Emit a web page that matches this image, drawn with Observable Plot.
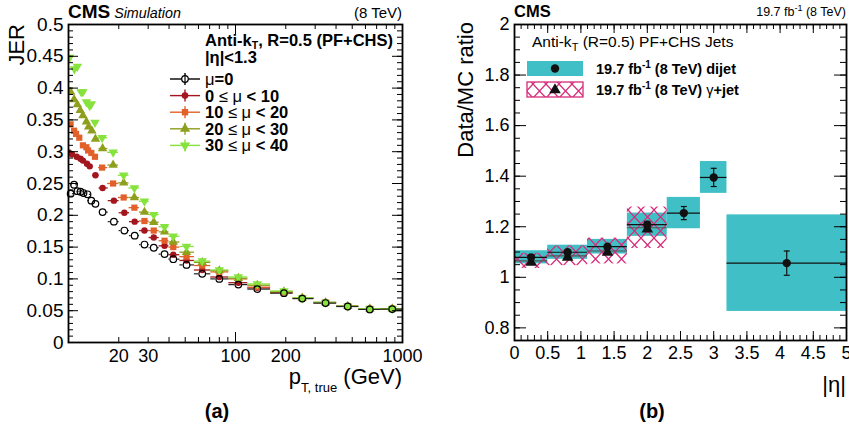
<!DOCTYPE html>
<html><head><meta charset="utf-8">
<script src="https://cdn.jsdelivr.net/npm/d3@7"></script>
<script src="https://cdn.jsdelivr.net/npm/@observablehq/plot@0.6"></script>
<style>
body{margin:0;background:#fff;}
#wrap{position:relative;width:849px;height:431px;overflow:hidden;background:#fff;}
#wrap > svg{position:absolute;top:0;}
</style></head><body><div id="wrap"></div>
<script>
// ---------------- Panel (a): JER vs pT, true ----------------
const ptMu0    = [10.3, 10.8, 11.3, 11.8, 12.3, 13.0, 13.7, 14.5, 16.0, 18.7, 21.6, 24.9, 28.5, 32.4, 37.6, 42.4, 50.9, 63.2, 80, 104, 135, 195, 251, 346, 470, 637, 868];
const jerMu0   = [0.234, 0.248, 0.238, 0.237, 0.235, 0.233, 0.223, 0.218, 0.205, 0.190, 0.176, 0.168, 0.154, 0.149, 0.139, 0.131, 0.122, 0.108, 0.100, 0.091, 0.084, 0.0776, 0.069, 0.062, 0.0566, 0.0520, 0.0525];
const ptMu0_10  = [10.05, 10.5, 11.2, 11.8, 12.2, 12.9, 13.4, 14.5, 16.0, 18.7, 21.6, 24.9, 28.5, 32.4, 37.6, 42.4, 50.9, 63.2, 80, 104, 135, 195, 251, 346, 470, 637, 868];
const jerMu0_10 = [0.299, 0.296, 0.292, 0.289, 0.286, 0.281, 0.277, 0.263, 0.243, 0.223, 0.204, 0.190, 0.176, 0.165, 0.152, 0.138, 0.129, 0.114, 0.103, 0.094, 0.086, 0.0785, 0.0695, 0.0625, 0.057, 0.0525, 0.053];
const ptMu10_20  = [10.3, 10.8, 11.1, 11.6, 12.2, 12.8, 13.1, 13.7, 14.4, 15.9, 18.5, 21.4, 24.8, 28.5, 32.4, 37.6, 42.4, 50.9, 63.2, 80, 104, 135, 195, 251, 346, 470, 637, 868];
const jerMu10_20 = [0.343, 0.333, 0.328, 0.322, 0.310, 0.307, 0.302, 0.298, 0.292, 0.275, 0.250, 0.228, 0.212, 0.191, 0.176, 0.160, 0.150, 0.135, 0.121, 0.111, 0.100, 0.087, 0.079, 0.070, 0.063, 0.057, 0.053, 0.053];
const ptMu20_30  = [10.3, 10.8, 11.3, 11.75, 12.2, 12.8, 13.2, 13.8, 14.5, 16.0, 18.5, 21.4, 24.8, 28.5, 32.4, 37.6, 42.4, 50.9, 63.2, 80, 104, 135, 195, 251, 346, 470, 637, 868];
const jerMu20_30 = [0.394, 0.382, 0.374, 0.365, 0.357, 0.347, 0.339, 0.333, 0.320, 0.305, 0.279, 0.251, 0.228, 0.205, 0.189, 0.174, 0.158, 0.142, 0.126, 0.113, 0.101, 0.090, 0.080, 0.070, 0.063, 0.057, 0.053, 0.053];
const ptMu30_40  = [10.15, 10.85, 11.3, 11.9, 12.2, 12.8, 13.4, 13.7, 14.4, 15.9, 18.5, 21.4, 24.8, 28.5, 32.4, 37.6, 42.4, 50.9, 63.2, 80, 104, 135, 195, 251, 346, 470, 637, 868];
const jerMu30_40 = [0.448, 0.430, 0.434, 0.394, 0.394, 0.378, 0.372, 0.375, 0.346, 0.322, 0.299, 0.263, 0.243, 0.222, 0.201, 0.182, 0.167, 0.151, 0.128, 0.114, 0.103, 0.092, 0.081, 0.070, 0.063, 0.057, 0.053, 0.053];

const jerXTickValues = [20, 30, 100, 200, 1000];
const jerXTickLabels = ["20", "30", "100", "200", "1000"];
const jerYTickValues = [0, 0.05, 0.1, 0.15, 0.2, 0.25, 0.3, 0.35, 0.4, 0.45, 0.5];
const jerYTickLabels = ["0", "0.05", "0.1", "0.15", "0.2", "0.25", "0.3", "0.35", "0.4", "0.45", "0.5"];

// ---------------- Panel (b): Data/MC ratio vs |eta| ----------------
const etaLo = [0, 0.5, 1.1, 1.7, 2.3, 2.8, 3.2];
const etaHi = [0.5, 1.1, 1.7, 2.3, 2.8, 3.2, 5.0];
const dijetRatio = [1.079, 1.099, 1.121, 1.208, 1.254, 1.395, 1.056];
const dijetStat  = [0.005, 0.005, 0.005, 0.013, 0.026, 0.036, 0.048];
const dijetSyst  = [0.026, 0.028, 0.029, 0.046, 0.062, 0.063, 0.191];
const gjetRatio = [1.065, 1.085, 1.104, 1.196];
const gjetSyst  = [0.030, 0.039, 0.051, 0.082];
const ratioYTickValues = [0.8, 1, 1.2, 1.4, 1.6, 1.8, 2];
const ratioYTickLabels = ["0.8", "1", "1.2", "1.4", "1.6", "1.8", "2"];
const etaXTickValues = [0, 0.5, 1, 1.5, 2, 2.5, 3, 3.5, 4, 4.5, 5];
const etaXTickLabels = ["0", "0.5", "1", "1.5", "2", "2.5", "3", "3.5", "4", "4.5", "5"];

// ---------------- styling ----------------
const FONT = '"Liberation Sans", Arial, Helvetica, sans-serif';
const RED = "#a3161e", ORANGE = "#e2612a", OLIVE = "#8e9f1d", LGREEN = "#86e23c";
const TEAL = "#40c0c6", PINK = "#d62c7a";

const triDown = {
  draw(ctx, size) {
    const s3 = Math.sqrt(3);
    const y = -Math.sqrt(size / (s3 * 3));
    ctx.moveTo(0, -y * 2);
    ctx.lineTo(-s3 * y, y);
    ctx.lineTo(s3 * y, y);
    ctx.closePath();
  }
};
const capSym = { draw(ctx) { ctx.moveTo(-3, 0); ctx.lineTo(3, 0); } };

function rows(pt, jer) {
  return pt.map((p, i) => {
    const lo = i > 0 ? Math.sqrt(pt[i - 1] * p) : Math.max(10, p * p / Math.sqrt(p * pt[i + 1]));
    const hi = i < pt.length - 1 ? Math.sqrt(p * pt[i + 1]) : 1000;
    return {pt: p, jer: jer[i], lo, hi};
  });
}

const seriesA = [
  {data: rows(ptMu0_10, jerMu0_10), color: RED, symbol: "circle", r: 3.2},
  {data: rows(ptMu10_20, jerMu10_20), color: ORANGE, symbol: "square", r: 3.5},
  {data: rows(ptMu20_30, jerMu20_30), color: OLIVE, symbol: "triangle", r: 3.5},
  {data: rows(ptMu30_40, jerMu30_40), color: LGREEN, symbol: triDown, r: 3.5}
];
const mu0 = rows(ptMu0, jerMu0);

function frameTicks(xMaj, xMin, yMaj, yMin, innerW, innerH, lx, ly) {
  const m = [];
  const add = (vals, len, axis) => {
    if (axis === "y") {
      m.push(Plot.ruleY(vals, {y: d => d, insetRight: innerW - len, stroke: "#000", strokeWidth: 1}));
      m.push(Plot.ruleY(vals, {y: d => d, insetLeft: innerW - len, stroke: "#000", strokeWidth: 1}));
    } else {
      m.push(Plot.ruleX(vals, {x: d => d, insetTop: innerH - len, stroke: "#000", strokeWidth: 1}));
      m.push(Plot.ruleX(vals, {x: d => d, insetBottom: innerH - len, stroke: "#000", strokeWidth: 1}));
    }
  };
  add(xMaj, lx[0], "x"); add(xMin, lx[1], "x");
  add(yMaj, ly[0], "y"); add(yMin, ly[1], "y");
  return m;
}

// ---------------- Plot (a) ----------------
const A = {w: 420, h: 431, ml: 68, mr: 18, mt: 24, mb: 89};
const innerWA = A.w - A.ml - A.mr, innerHA = A.h - A.mt - A.mb;
const marksA = [];
for (const s of seriesA) {
  marksA.push(Plot.ruleY(s.data, {x1: "lo", x2: "hi", y: "jer", stroke: s.color, strokeWidth: 1.3, clip: true}));
}
marksA.push(Plot.ruleY(mu0, {x1: "lo", x2: "pt", y: "jer", insetRight: 3.5, stroke: "#222", strokeWidth: 1.2, clip: true}));
marksA.push(Plot.ruleY(mu0, {x1: "pt", x2: "hi", y: "jer", insetLeft: 3.5, stroke: "#222", strokeWidth: 1.2, clip: true}));
for (const s of seriesA) {
  marksA.push(Plot.dot(s.data, {x: "pt", y: "jer", symbol: s.symbol, r: s.r, fill: s.color, clip: true}));
}
marksA.push(Plot.dot(mu0, {x: "pt", y: "jer", r: 3.3, fill: "none", stroke: "#000", strokeWidth: 1.2}));
const xMajA = [10, 100, 1000];
const xMinA = [20, 30, 40, 50, 60, 70, 80, 90, 200, 300, 400, 500, 600, 700, 800, 900];
const yMinA = d3.range(0, 0.5001, 0.01);
marksA.push(...frameTicks(xMajA, xMinA, jerYTickValues, yMinA, innerWA, innerHA, [10, 5], [10, 5]));
marksA.push(Plot.frame({stroke: "#000", strokeWidth: 1.8}));
marksA.push(Plot.axisY({ticks: jerYTickValues, tickFormat: d => jerYTickLabels[jerYTickValues.indexOf(d)], tickSize: 0, tickPadding: 5, fontSize: 19, label: null}));
marksA.push(Plot.axisX({ticks: jerXTickValues, tickFormat: d => jerXTickLabels[jerXTickValues.indexOf(d)], tickSize: 0, tickPadding: 7, fontSize: 18, label: null}));

const plotA = Plot.plot({
  width: A.w, height: A.h, marginLeft: A.ml, marginRight: A.mr, marginTop: A.mt, marginBottom: A.mb,
  style: {fontFamily: FONT, background: "transparent", overflow: "visible", color: "#000"},
  x: {type: "log", domain: [10, 1000]},
  y: {domain: [0, 0.5]},
  marks: marksA
});
plotA.style.left = "0px";

// ---------------- Plot (b) ----------------
const B = {w: 429, h: 431, ml: 94, mr: 3, mt: 24, mb: 91};
const innerWB = B.w - B.ml - B.mr, innerHB = B.h - B.mt - B.mb;
const dijet = etaLo.map((lo, i) => ({lo, hi: etaHi[i], c: (lo + etaHi[i]) / 2, v: dijetRatio[i], stat: dijetStat[i], syst: dijetSyst[i]}));
const gjet = gjetRatio.map((v, i) => ({lo: etaLo[i], hi: etaHi[i], c: (etaLo[i] + etaHi[i]) / 2, v, syst: gjetSyst[i]}));
const xMinB = d3.range(0, 5.001, 0.1);
const yMinB = d3.range(0.75, 2.0001, 0.05);
const marksB = [
  Plot.rect(dijet, {x1: "lo", x2: "hi", y1: d => d.v - d.syst, y2: d => d.v + d.syst, fill: TEAL}),
  Plot.rect(gjet, {x1: "lo", x2: "hi", y1: d => d.v - d.syst, y2: d => d.v + d.syst, fill: "url(#xhatchB)"}),
  Plot.ruleY(gjet, {x1: "lo", x2: "hi", y: "v", stroke: "#555", strokeWidth: 1.2}),
  Plot.ruleY(dijet, {x1: "lo", x2: "hi", y: "v", stroke: "#111", strokeWidth: 1.2}),
  Plot.ruleX(dijet, {x: "c", y1: d => d.v - d.stat, y2: d => d.v + d.stat, stroke: "#111", strokeWidth: 1.2}),
  Plot.dot(dijet, {x: "c", y: d => d.v + d.stat, symbol: capSym, stroke: "#111", strokeWidth: 1.2}),
  Plot.dot(dijet, {x: "c", y: d => d.v - d.stat, symbol: capSym, stroke: "#111", strokeWidth: 1.2}),
  Plot.dot(gjet, {x: "c", y: "v", dy: 1.5, symbol: "triangle", fill: "#111", r: 4.3}),
  Plot.dot(dijet, {x: "c", y: "v", fill: "#111", r: 4.2}),
  ...frameTicks(etaXTickValues, xMinB, ratioYTickValues, yMinB, innerWB, innerHB, [9, 5], [12, 6]),
  Plot.frame({stroke: "#000", strokeWidth: 1.8}),
  Plot.axisY({ticks: ratioYTickValues, tickFormat: d => ratioYTickLabels[ratioYTickValues.indexOf(d)], tickSize: 0, tickPadding: 5, fontSize: 18, label: null}),
  Plot.axisX({ticks: etaXTickValues, tickFormat: d => etaXTickLabels[etaXTickValues.indexOf(d)], tickSize: 0, tickPadding: 6, fontSize: 18, label: null})
];
const plotB = Plot.plot({
  width: B.w, height: B.h, marginLeft: B.ml, marginRight: B.mr, marginTop: B.mt, marginBottom: B.mb,
  style: {fontFamily: FONT, background: "transparent", overflow: "visible", color: "#000"},
  x: {domain: [0, 5]},
  y: {domain: [0.75, 2.0]},
  marks: marksB
});
plotB.style.left = "420px";

function addHatch(sel, id) {
  const p = sel.insert("defs", ":first-child").append("pattern")
    .attr("id", id).attr("patternUnits", "userSpaceOnUse").attr("width", 13).attr("height", 14);
  p.append("path").attr("d", "M0,0L13,14M13,0L0,14").attr("stroke", PINK).attr("stroke-width", 1.3).attr("fill", "none");
}
addHatch(d3.select(plotB), "xhatchB");

const wrap = document.getElementById("wrap");
wrap.appendChild(plotA);
wrap.appendChild(plotB);

// ---------------- overlay: titles, axis titles, legends ----------------
const ov = d3.select(wrap).append("svg").attr("width", 849).attr("height", 431)
  .style("position", "absolute").style("left", "0px").style("top", "0px")
  .attr("font-family", FONT);
addHatch(ov, "xhatchL");

function txt(x, y, parts, anchor = "start", rot = false) {
  const t = ov.append("text").attr("x", x).attr("y", y).attr("text-anchor", anchor).attr("fill", "#000");
  if (rot) t.attr("transform", `rotate(-90 ${x} ${y})`);
  for (const p of parts) {
    const s = t.append("tspan").text(p.t).attr("font-size", p.s);
    if (p.w) s.attr("font-weight", p.w);
    if (p.i) s.attr("font-style", "italic");
    if (p.dy) s.attr("dy", p.dy);
  }
  return t;
}

// panel (a) texts
txt(68, 18, [{t: "CMS", s: 19, w: "bold"}, {t: " ", s: 14}, {t: "Simulation", s: 14.3, i: true}]);
txt(402, 18, [{t: "(8 TeV)", s: 15}], "end");
txt(24, 24, [{t: "JER", s: 22}], "end", true);
txt(402, 384, [{t: "p", s: 22}, {t: "T, true", s: 13, dy: 8}, {t: " (GeV)", s: 22, dy: -8}], "end");
txt(217, 418, [{t: "(a)", s: 20, w: "bold"}], "middle");
txt(205, 46, [{t: "Anti-k", s: 16.5, w: "bold"}, {t: "T", s: 10.5, w: "bold", dy: 2.5}, {t: ", R=0.5 (PF+CHS)", s: 16.5, w: "bold", dy: -2.5}]);
txt(205, 63, [{t: "|η|<1.3", s: 16.5, w: "bold"}]);

const legA = [
  {parts: [{t: "μ", s: 16.5}, {t: "=0", s: 16.5, w: "bold"}], color: "#000", sym: d3.symbolCircle, r: 3.3, open: true},
  {parts: [{t: "0 ", s: 16.5, w: "bold"}, {t: "≤ μ", s: 16.5}, {t: " < 10", s: 16.5, w: "bold"}], color: RED, sym: d3.symbolCircle, r: 3.3},
  {parts: [{t: "10 ", s: 16.5, w: "bold"}, {t: "≤ μ", s: 16.5}, {t: " < 20", s: 16.5, w: "bold"}], color: ORANGE, sym: d3.symbolSquare, r: 3.6},
  {parts: [{t: "20 ", s: 16.5, w: "bold"}, {t: "≤ μ", s: 16.5}, {t: " < 30", s: 16.5, w: "bold"}], color: OLIVE, sym: d3.symbolTriangle, r: 3.8},
  {parts: [{t: "30 ", s: 16.5, w: "bold"}, {t: "≤ μ", s: 16.5}, {t: " < 40", s: 16.5, w: "bold"}], color: LGREEN, sym: triDown, r: 3.8}
];
legA.forEach((e, i) => {
  const y = 79 + i * 16.6;
  ov.append("line").attr("x1", 170).attr("x2", 200).attr("y1", y).attr("y2", y).attr("stroke", e.color).attr("stroke-width", 1.4);
  ov.append("line").attr("x1", 185).attr("x2", 185).attr("y1", y - 6).attr("y2", y + 6).attr("stroke", e.color).attr("stroke-width", 1.4);
  ov.append("path").attr("d", d3.symbol().type(e.sym).size(Math.PI * e.r * e.r)())
    .attr("transform", `translate(185,${y})`)
    .attr("fill", e.open ? "#fff" : e.color).attr("stroke", e.open ? "#000" : "none").attr("stroke-width", 1.2);
  if (e.open) ov.append("line").attr("x1", 185).attr("x2", 185).attr("y1", y - 3.3).attr("y2", y + 3.3).attr("stroke", "#000").attr("stroke-width", 1.2);
  txt(205, y + 6, e.parts);
});

// panel (b) texts
txt(514, 17, [{t: "CMS", s: 16.5, w: "bold"}]);
txt(846, 16, [{t: "19.7 fb", s: 12.5}, {t: "-1", s: 9, dy: -5}, {t: " (8 TeV)", s: 12.5, dy: 5}], "end");
txt(473, 22, [{t: "Data/MC ratio", s: 22}], "end", true);
txt(846, 392, [{t: "|η|", s: 22}], "end");
txt(652, 418, [{t: "(b)", s: 20, w: "bold"}], "middle");
txt(532, 47, [{t: "Anti-k", s: 15.5}, {t: "T", s: 11, dy: 4}, {t: " (R=0.5) PF+CHS Jets", s: 15.5, dy: -4}]);

ov.append("rect").attr("x", 527).attr("y", 61).attr("width", 56).attr("height", 15).attr("fill", TEAL);
ov.append("circle").attr("cx", 555).attr("cy", 68.5).attr("r", 4.2).attr("fill", "#111");
txt(596, 74, [{t: "19.7 fb", s: 14.5, w: "bold"}, {t: "-1", s: 10, w: "bold", dy: -6}, {t: " (8 TeV) dijet", s: 14.5, w: "bold", dy: 6}]);
ov.append("rect").attr("x", 527).attr("y", 82).attr("width", 56).attr("height", 15).attr("fill", "url(#xhatchL)").attr("stroke", PINK).attr("stroke-width", 1.3);
ov.append("path").attr("d", d3.symbol().type(d3.symbolTriangle).size(Math.PI * 4.3 * 4.3)()).attr("transform", "translate(555,90)").attr("fill", "#111");
txt(596, 95, [{t: "19.7 fb", s: 14.5, w: "bold"}, {t: "-1", s: 10, w: "bold", dy: -6}, {t: " (8 TeV) ", s: 14.5, w: "bold", dy: 6}, {t: "γ", s: 14.5}, {t: "+jet", s: 14.5, w: "bold"}]);
</script>
</body></html>
